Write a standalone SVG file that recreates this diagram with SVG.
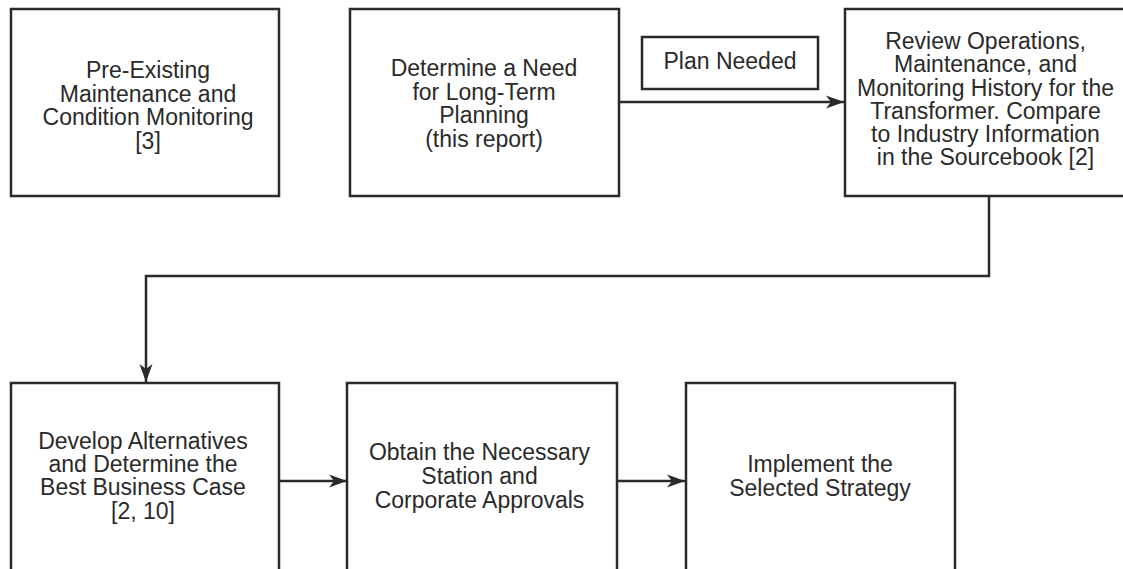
<svg xmlns="http://www.w3.org/2000/svg" width="1123" height="569" viewBox="0 0 1123 569">
<style>
  .box { fill: #ffffff; stroke: #2a2a2a; stroke-width: 2.5; }
  .lbl { font-family: "Liberation Sans", Arial, sans-serif; font-size: 23px; fill: #2a2a2a; text-anchor: middle; }
  .conn { fill: none; stroke: #2a2a2a; stroke-width: 2.5; }
</style>
<defs>
  <marker id="arr" markerUnits="userSpaceOnUse" markerWidth="19" markerHeight="14" viewBox="0 0 19 14" refX="18" refY="7" orient="auto">
    <path d="M0,0.5 L18,7 L0,13.5 L5,7 Z" fill="#2a2a2a"/>
  </marker>
</defs>
<rect width="1123" height="569" fill="#ffffff"/>

<g id="connectors">
  <line class="conn" x1="619" y1="102" x2="844" y2="102" marker-end="url(#arr)"/>
  <polyline class="conn" points="989,196 989,276 146,276 146,382" marker-end="url(#arr)"/>
  <line class="conn" x1="279" y1="481" x2="347" y2="481" marker-end="url(#arr)"/>
  <line class="conn" x1="617" y1="481" x2="685" y2="481" marker-end="url(#arr)"/>
</g>

<g id="node-preexisting">
  <rect class="box" x="11" y="9" width="268" height="187"/>
  <text class="lbl" x="148" y="78">Pre-Existing</text>
  <text class="lbl" x="148" y="101.5">Maintenance and</text>
  <text class="lbl" x="148" y="125">Condition Monitoring</text>
  <text class="lbl" x="148" y="148.5">[3]</text>
</g>

<g id="node-determine">
  <rect class="box" x="350" y="9" width="269" height="187"/>
  <text class="lbl" x="484" y="76">Determine a Need</text>
  <text class="lbl" x="484" y="99.5">for Long-Term</text>
  <text class="lbl" x="484" y="123">Planning</text>
  <text class="lbl" x="484" y="146.5">(this report)</text>
</g>

<g id="node-plan-needed">
  <rect class="box" x="642" y="37" width="176" height="52"/>
  <text class="lbl" x="730" y="68.5">Plan Needed</text>
</g>

<g id="node-review">
  <rect class="box" x="845" y="9" width="282" height="187"/>
  <text class="lbl" x="985.5" y="48.5">Review Operations,</text>
  <text class="lbl" x="985.5" y="72">Maintenance, and</text>
  <text class="lbl" x="985.5" y="95.5">Monitoring History for the</text>
  <text class="lbl" x="985.5" y="118.5">Transformer. Compare</text>
  <text class="lbl" x="985.5" y="142">to Industry Information</text>
  <text class="lbl" x="985.5" y="165">in the Sourcebook [2]</text>
</g>

<g id="node-develop">
  <rect class="box" x="11" y="383" width="268" height="200"/>
  <text class="lbl" x="143" y="448.5">Develop Alternatives</text>
  <text class="lbl" x="143" y="472">and Determine the</text>
  <text class="lbl" x="143" y="495">Best Business Case</text>
  <text class="lbl" x="143" y="518.5">[2, 10]</text>
</g>

<g id="node-obtain">
  <rect class="box" x="347" y="383" width="270" height="200"/>
  <text class="lbl" x="479.5" y="460">Obtain the Necessary</text>
  <text class="lbl" x="479.5" y="484">Station and</text>
  <text class="lbl" x="479.5" y="508">Corporate Approvals</text>
</g>

<g id="node-implement">
  <rect class="box" x="686" y="383" width="269" height="200"/>
  <text class="lbl" x="820" y="472">Implement the</text>
  <text class="lbl" x="820" y="496">Selected Strategy</text>
</g>
</svg>
